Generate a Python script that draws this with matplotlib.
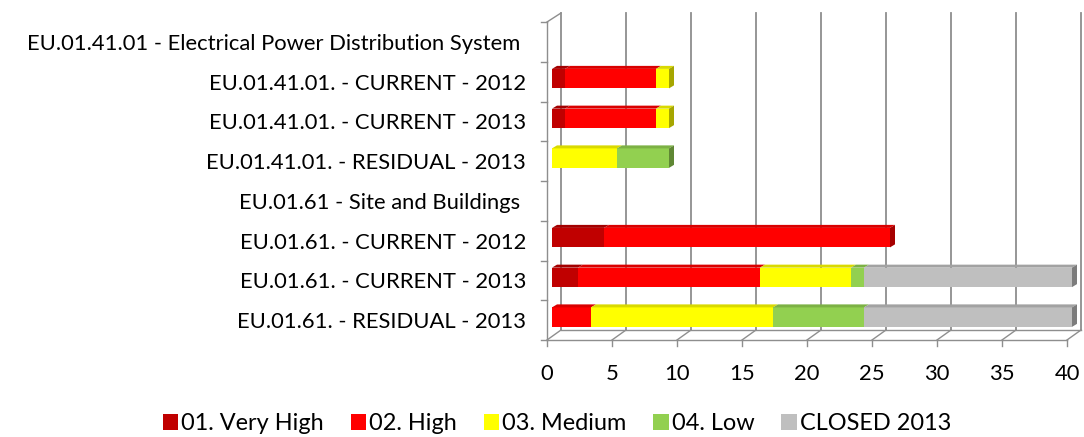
import matplotlib
matplotlib.use("Agg")
import matplotlib.pyplot as plt
from matplotlib.patches import Polygon, Patch
from matplotlib.colors import to_rgb

categories = [
    "EU.01.41.01 - Electrical Power Distribution System ",
    "EU.01.41.01. - CURRENT - 2012",
    "EU.01.41.01. - CURRENT - 2013",
    "EU.01.41.01. - RESIDUAL - 2013",
    "EU.01.61 - Site and Buildings ",
    "EU.01.61. - CURRENT - 2012",
    "EU.01.61. - CURRENT - 2013",
    "EU.01.61. - RESIDUAL - 2013",
]
very_high = [0, 1, 1, 0, 0, 4, 2, 0]
high = [0, 7, 7, 0, 0, 22, 14, 3]
medium = [0, 1, 1, 5, 0, 0, 7, 14]
low = [0, 0, 0, 4, 0, 0, 1, 7]
closed = [0, 0, 0, 0, 0, 0, 16, 16]
series_names = ["01. Very High", "02. High", "03. Medium", "04. Low", "CLOSED 2013"]
series_colors = ["#C00000", "#FF0000", "#FFFF00", "#92D050", "#BFBFBF"]
x_ticks = [0, 5, 10, 15, 20, 25, 30, 35, 40]

plt.rcParams['font.family'] = ['Lato', 'DejaVu Sans']

W, H = 1084, 437
fig = plt.figure(figsize=(W / 100, H / 100), dpi=100)

def fx(p):
    return p / W

def fy(p):
    return 1 - p / H

# fit font size to the reference label width
probe = fig.text(0, 0, "EU.01.41.01. - CURRENT - 2012", fontsize=14)
fig.canvas.draw()
w = probe.get_window_extent().width
probe.remove()
FS = 14 * 318.0 / w

ax_top, ax_bot, ax_left = 10, 350, 540
ax = fig.add_axes([fx(ax_left), fy(ax_bot), 1 - fx(ax_left), fy(ax_top) - fy(ax_bot)])
PX = 13.0
X0 = 552
PY = 39.75
Y0 = 22
ax.set_xlim((ax_left - X0) / PX, (W - X0) / PX)
ax.set_ylim(-0.5 + (ax_bot - Y0) / PY, -0.5 - (Y0 - ax_top) / PY)

front = -5 / PX
back = 9 / PX
floor_front = 7.5
floor_back = 7.5 - 10 / PY
wall_top_front = -0.5
wall_top_back = -0.5 - 9 / PY
gc = "#8E8E8E"
glw = 1.3

# back wall gridlines and floor
for v in x_ticks:
    ax.plot([v + back, v + back], [wall_top_back, floor_back], color=gc, lw=glw, zorder=1)
    ax.plot([v + front, v + back], [floor_front, floor_back], color=gc, lw=1.0, zorder=1)
    ax.plot([v + front, v + front], [floor_front, floor_front + 6 / PY], color=gc, lw=1.0, zorder=1)
ax.plot([front, x_ticks[-1] + front], [floor_front, floor_front], color=gc, lw=1.0, zorder=1)
ax.plot([back, x_ticks[-1] + back], [floor_back, floor_back], color=gc, lw=1.0, zorder=1)
# left wall
ax.plot([front, front], [wall_top_front, floor_front], color=gc, lw=1.0, zorder=1)
ax.plot([front, back], [wall_top_front, wall_top_back], color=gc, lw=1.0, zorder=1)
for i in range(len(categories) + 1):
    ax.plot([front - 6 / PX, front], [i - 0.5, i - 0.5], color=gc, lw=1.0, zorder=1)

# 3D-looking stacked bars
series = [very_high, high, medium, low, closed]
bh = 0.49
yoff = -3 / PY
dx = 5 / PX
dy = 3 / PY
ypos = [i + yoff for i in range(len(categories))]
left = [0.0] * len(categories)
last_end = [None] * len(categories)
for vals, col in zip(series, series_colors):
    ax.barh(ypos, vals, left=left, height=bh, color=col, edgecolor='none', zorder=3)
    r, g, b = to_rgb(col)
    topc = (r * 0.85, g * 0.85, b * 0.85)
    for i, v in enumerate(vals):
        if v > 0:
            l = left[i]
            rr = l + v
            yt = ypos[i] - bh / 2
            ax.add_patch(Polygon([(l, yt), (rr, yt), (rr + dx, yt - dy), (l + dx, yt - dy)],
                                 closed=True, facecolor=topc, edgecolor='none', zorder=3))
            last_end[i] = (rr, col)
    left = [a + b for a, b in zip(left, vals)]

for i, le in enumerate(last_end):
    if le is not None:
        rr, col = le
        r, g, b = to_rgb(col)
        capc = (r * 0.65, g * 0.65, b * 0.65)
        yt = ypos[i] - bh / 2
        yb = ypos[i] + bh / 2
        ax.add_patch(Polygon([(rr, yt), (rr + dx, yt - dy), (rr + dx, yb - dy), (rr, yb)],
                             closed=True, facecolor=capc, edgecolor='none', zorder=3))

ax.set_xticks([v + front for v in x_ticks])
ax.set_xticklabels([str(v) for v in x_ticks], fontsize=FS)
ax.set_yticks(range(len(categories)))
ax.set_yticklabels(categories, fontsize=FS)
ax.tick_params(axis='x', length=0, pad=10)
ax.tick_params(axis='y', length=0, pad=10)
for s in ax.spines.values():
    s.set_visible(False)

handles = [Patch(facecolor=c, edgecolor='none') for c in series_colors]
fig.legend(handles, series_names, loc='center', bbox_to_anchor=(fx(557), fy(424)),
           ncol=5, frameon=False, fontsize=FS * 1.07, handlelength=0.65, handleheight=0.65,
           handletextpad=0.12, columnspacing=1.15, borderaxespad=0)

fig.savefig("out.png", dpi=100)
